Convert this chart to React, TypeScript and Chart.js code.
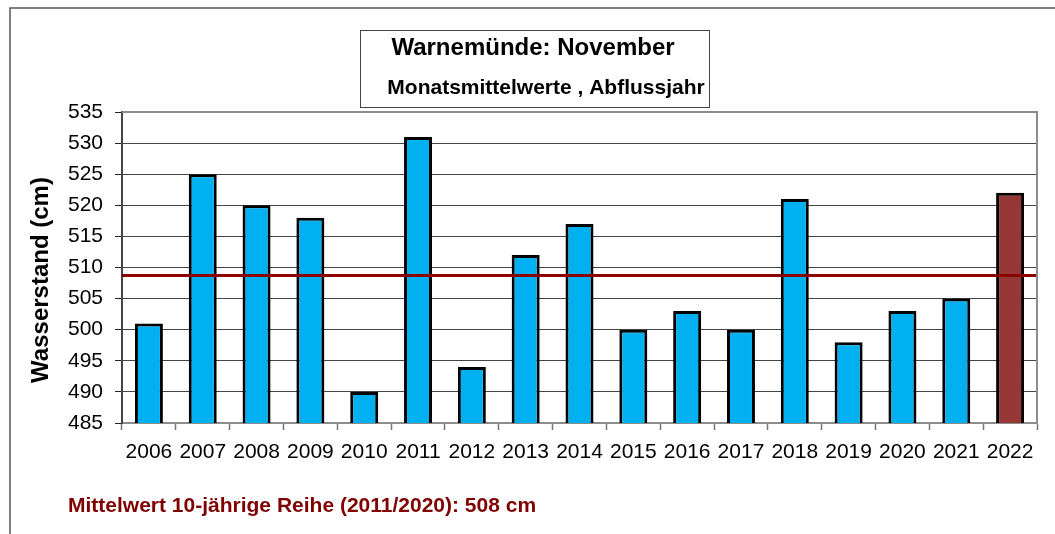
import { useEffect, useRef } from "react";
import { Chart, registerables } from "chart.js";

Chart.register(...registerables);

const YEARS = ["2006", "2007", "2008", "2009", "2010", "2011", "2012", "2013", "2014", "2015", "2016", "2017", "2018", "2019", "2020", "2021", "2022"];
const LEVELS = [501, 525, 520, 518, 490, 531, 494, 512, 517, 500, 503, 500, 521, 498, 503, 505, 522];
const MEAN_10Y = 508.7;
const Y_MIN = 485;
const Y_MAX = 535;
const Y_STEP = 5;
const TITLE = "Warnemünde: November";
const SUBTITLE = "Monatsmittelwerte , Abflussjahr";
const FOOTER = "Mittelwert 10-jährige Reihe (2011/2020): 508 cm";
const Y_TITLE = "Wasserstand (cm)";

const FONT = '"Liberation Sans", Arial, sans-serif';
const BAR_COLOR = "#00B0F0";
const LAST_COLOR = "#953735";

const deco = {
  id: "deco",
  beforeDraw(chart: any) {
    const ctx = chart.ctx;
    ctx.save();
    ctx.fillStyle = "#fff";
    ctx.fillRect(0, 0, chart.width, chart.height);
    ctx.strokeStyle = "#555";
    ctx.lineWidth = 1.5;
    ctx.beginPath();
    ctx.moveTo(10, chart.height + 5);
    ctx.lineTo(10, 8);
    ctx.lineTo(chart.width + 5, 8);
    ctx.stroke();
    ctx.lineWidth = 1;
    ctx.strokeStyle = "#444";
    ctx.strokeRect(360.5, 30.5, 349, 77);
    ctx.fillStyle = "#000";
    ctx.textAlign = "center";
    ctx.textBaseline = "middle";
    ctx.font = `bold 24px ${FONT}`;
    ctx.fillText(TITLE, 533, 48);
    ctx.font = `bold 21px ${FONT}`;
    ctx.fillText(SUBTITLE, 546, 88);
    ctx.fillStyle = "#800000";
    ctx.textAlign = "left";
    ctx.font = `bold 21px ${FONT}`;
    ctx.fillText(FOOTER, 68, 506);
    ctx.save();
    ctx.translate(41, 280);
    ctx.rotate(-Math.PI / 2);
    ctx.fillStyle = "#000";
    ctx.textAlign = "center";
    ctx.font = `bold 24px ${FONT}`;
    ctx.fillText(Y_TITLE, 0, 0);
    ctx.restore();
    ctx.restore();
  },
  afterDatasetsDraw(chart: any) {
    const { ctx, chartArea, scales } = chart;
    const { left, right, top, bottom } = chartArea;
    const py = scales.y.getPixelForValue(MEAN_10Y);
    ctx.save();
    ctx.strokeStyle = "#8B0000";
    ctx.lineWidth = 3;
    ctx.beginPath();
    ctx.moveTo(left, py);
    ctx.lineTo(right, py);
    ctx.stroke();
    ctx.strokeStyle = "#8c8c8c";
    ctx.lineWidth = 2;
    ctx.beginPath();
    ctx.moveTo(left, top);
    ctx.lineTo(right, top);
    ctx.lineTo(right, bottom);
    ctx.stroke();
    ctx.restore();
  },
};

export default function App() {
  const ref = useRef<HTMLCanvasElement | null>(null);
  useEffect(() => {
    if (!ref.current) return;
    const chart = new Chart(ref.current, {
      type: "bar",
      data: {
        labels: YEARS,
        datasets: [
          {
            data: LEVELS,
            backgroundColor: LEVELS.map((_, i) => (i === LEVELS.length - 1 ? LAST_COLOR : BAR_COLOR)),
            borderColor: "#000",
            borderWidth: 3,
            borderSkipped: false,
            barPercentage: 0.52,
            categoryPercentage: 1,
          },
        ],
      },
      options: {
        animation: false,
        responsive: true,
        maintainAspectRatio: false,
        layout: { padding: { left: 0, top: 112, right: 18, bottom: 0 } },
        plugins: { legend: { display: false }, tooltip: { enabled: false } },
        scales: {
          x: {
            offset: true,
            grid: { display: true, offset: true, drawOnChartArea: false, drawTicks: true, tickLength: 7, tickColor: "#777", tickWidth: 1.5 },
            border: { display: true, color: "#8c8c8c", width: 2 },
            ticks: { color: "#000", font: { family: FONT, size: 21 }, padding: 10, maxRotation: 0, autoSkip: false },
            afterFit: (s: any) => {
              s.height = 111;
            },
          },
          y: {
            min: Y_MIN,
            max: Y_MAX,
            ticks: { stepSize: Y_STEP, color: "#000", font: { family: FONT, size: 21 }, padding: 12 },
            grid: { color: "#444", lineWidth: 1, borderDash: [2, 2], tickLength: 7, tickColor: "#222", tickBorderDash: [], tickWidth: 1 },
            border: { display: true, color: "#444", width: 2 },
            title: { display: false },
            afterFit: (s: any) => {
              s.width = 122;
            },
          },
        },
      },
      plugins: [deco],
    });
    return () => chart.destroy();
  }, []);
  return (
    <div style={{ position: "fixed", left: 0, top: 0, width: 1055, height: 534, background: "#fff" }}>
      <canvas ref={ref} />
    </div>
  );
}
